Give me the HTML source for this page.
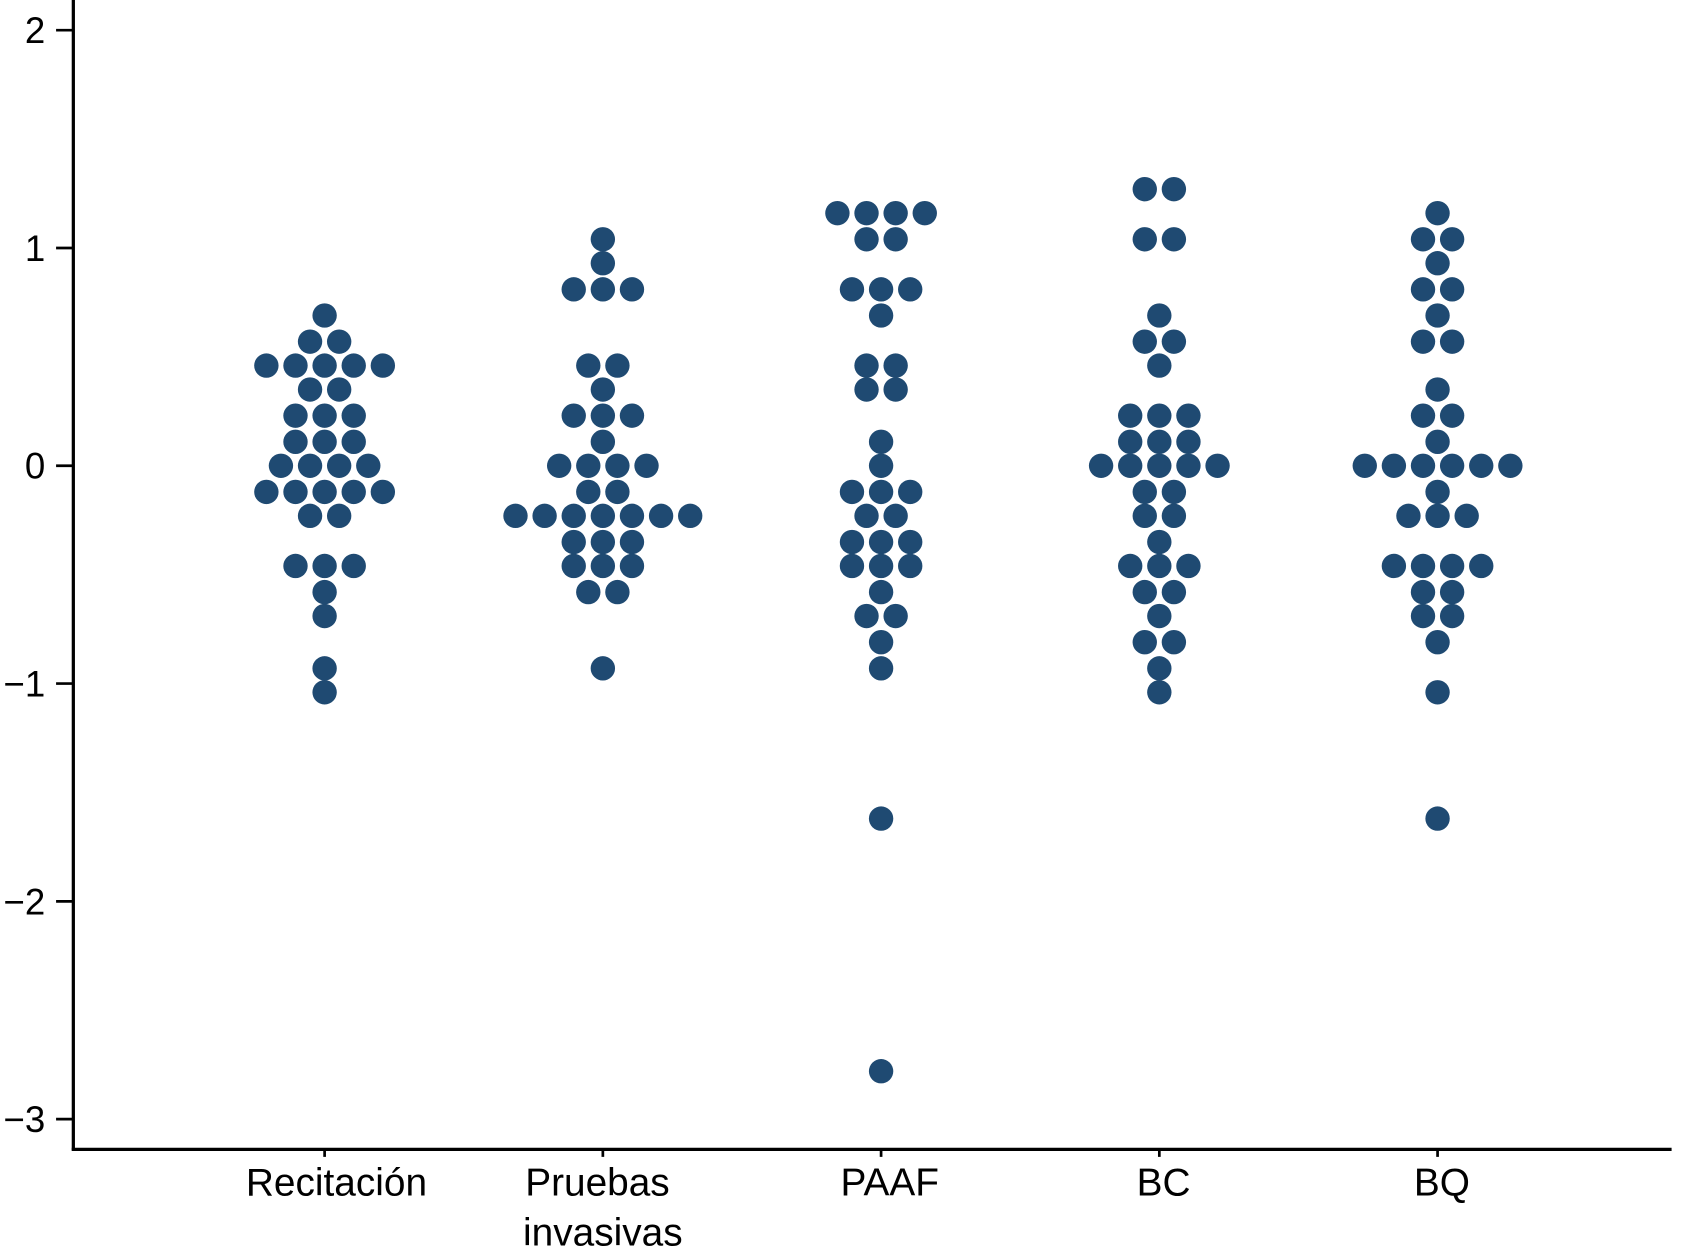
<!DOCTYPE html>
<html><head><meta charset="utf-8"><style>
html,body{margin:0;padding:0;background:#fff;}
svg{display:block;}
text{font-family:"Liberation Sans",sans-serif;fill:#000;}
</style></head><body>
<svg id="chart" width="1691" height="1255" viewBox="0 0 1568 1164" preserveAspectRatio="none" xmlns="http://www.w3.org/2000/svg">
<g id="axes"></g>
<g id="dots"></g>
</svg>
<script>
const categories = ["Recitación", "Pruebas|invasivas", "PAAF", "BC", "BQ"];
const yTicks = [2, 1, 0, -1, -2, -3];
const yTickLabels = ["2", "1", "0", "\u22121", "\u22122", "\u22123"];
const recValues = [0.69,0.57,0.46,0.35,0.23,0.11,0,-0.12,-0.23,-0.46,-0.58,-0.69,-0.93,-1.04];
const recCounts = [1,2,5,2,3,3,4,5,2,3,1,1,1,1];
const pruValues = [1.04,0.93,0.81,0.46,0.35,0.23,0.11,0,-0.12,-0.23,-0.35,-0.46,-0.58,-0.93];
const pruCounts = [1,1,3,2,1,3,1,4,2,7,3,3,2,1];
const paafValues = [1.16,1.04,0.81,0.69,0.46,0.35,0.11,0,-0.12,-0.23,-0.35,-0.46,-0.58,-0.69,-0.81,-0.93,-1.62,-2.78];
const paafCounts = [4,2,3,1,2,2,1,1,3,2,3,3,1,2,1,1,1,1];
const bcValues = [1.27,1.04,0.69,0.57,0.46,0.23,0.11,0,-0.12,-0.23,-0.35,-0.46,-0.58,-0.69,-0.81,-0.93,-1.04];
const bcCounts = [2,2,1,2,1,3,3,5,2,2,1,3,2,1,2,1,1];
const bqValues = [1.16,1.04,0.93,0.81,0.69,0.57,0.35,0.23,0.11,0,-0.12,-0.23,-0.46,-0.58,-0.69,-0.81,-1.04,-1.62];
const bqCounts = [1,2,1,2,1,2,1,2,1,6,1,3,4,2,2,1,1,1];
const groupValues = [recValues, pruValues, paafValues, bcValues, bqValues];
const groupCounts = [recCounts, pruCounts, paafCounts, bcCounts, bqCounts];

const NS = "http://www.w3.org/2000/svg";
const yScale = v => 432 - v * 202;
const xScale = i => 301 + i * 258;
const labelShift = [[11],[-5,0],[8],[4],[4]];
const axes = document.getElementById('axes');
const dots = document.getElementById('dots');
function mk(tag, attrs, parent){ const e=document.createElementNS(NS,tag); for(const k in attrs) e.setAttribute(k,attrs[k]); parent.appendChild(e); return e; }

let el = mk('line',{x1:68,y1:0,x2:68,y2:1067,stroke:'#000','stroke-width':3},axes);


el = mk('line',{x1:66.5,y1:1066,x2:1550,y2:1066,stroke:'#000','stroke-width':3},axes);



yTicks.forEach((t,i)=>{
  const y = yScale(t);
  const tk = mk('line',{x1:52,y1:y,x2:68,y2:y,stroke:'#000','stroke-width':2.5},axes);
  
  
  const tx = mk('text',{x:42,y:y+12,'text-anchor':'end','font-size':34},axes);
  tx.textContent = yTickLabels[i];
  
  
});

categories.forEach((c,i)=>{
  const x = xScale(i);
  const tk = mk('line',{x1:x,y1:1066,x2:x,y2:1073,stroke:'#000','stroke-width':2.5},axes);
  
  
  c.split('|').forEach((line,j)=>{
    const tx = mk('text',{x:x+labelShift[i][j],y:1109+j*46,'text-anchor':'middle','font-size':36},axes);
    tx.textContent = line;
    
    
  });
});

groupValues.forEach((vals,g)=>{
  const cx0 = xScale(g);
  vals.forEach((v,k)=>{
    const n = groupCounts[g][k];
    for(let j=0;j<n;j++){
      const cx = cx0 + (j-(n-1)/2)*27;
      const d = mk('circle',{cx:cx,cy:yScale(v),r:11.3,fill:'#1f4a72'},dots);
      
      
    }
  });
});
</script>
</body></html>
